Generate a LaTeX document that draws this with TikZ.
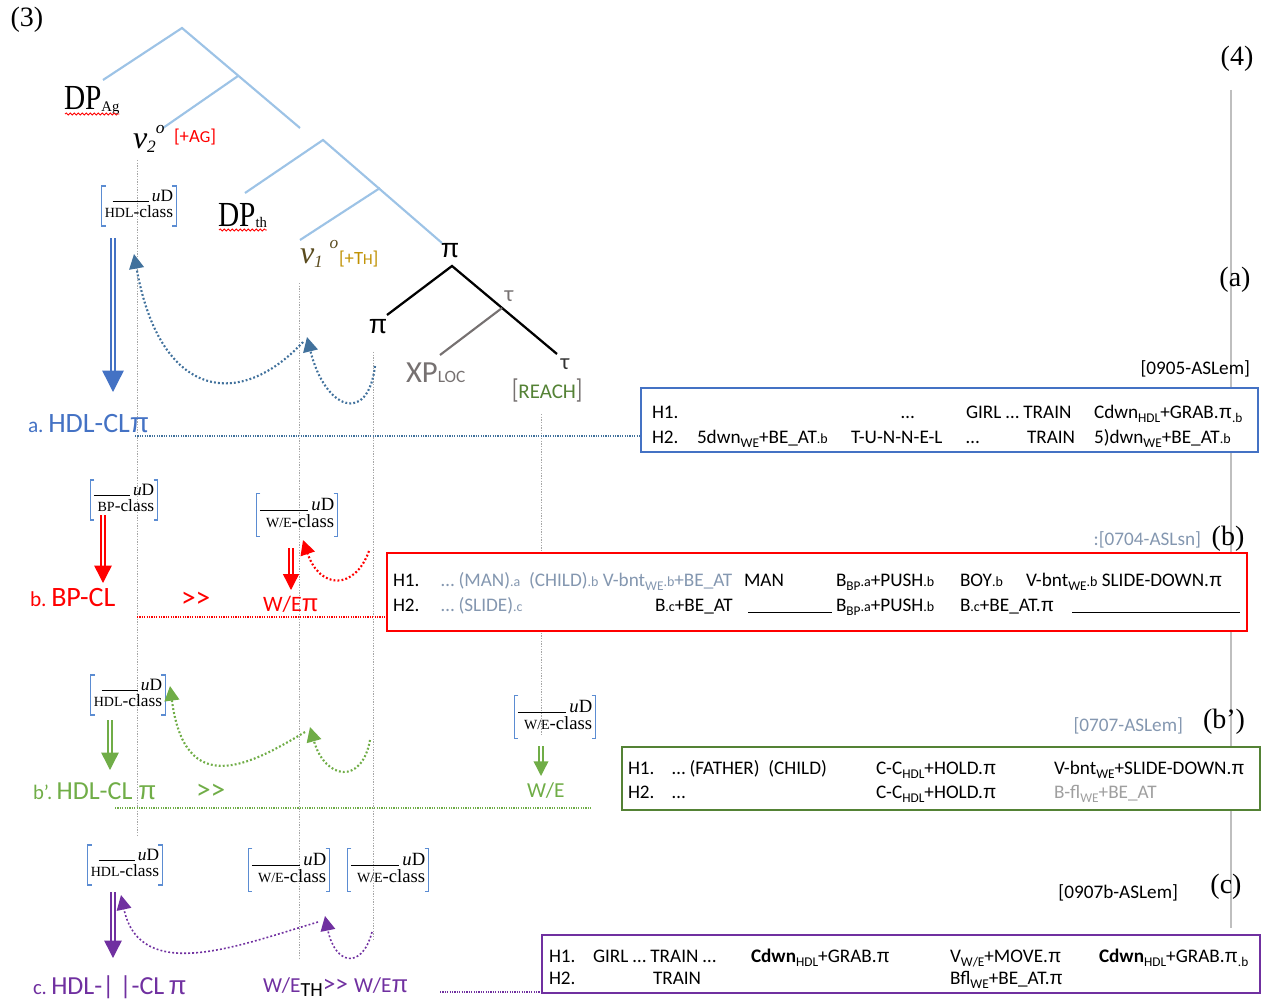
\documentclass[tikz,border=0pt]{standalone}
\usepackage{fontspec}
\setmainfont{Carlito}
\newfontfamily\tms{Liberation Serif}
\newfontfamily\pif{Liberation Sans}
\newcommand\p{{\pif π}}
\usetikzlibrary{arrows.meta,decorations.pathmorphing,calc}
\definecolor{treeblue}{RGB}{157,195,230}
\definecolor{cblue}{RGB}{68,114,196}
\definecolor{cdblue}{RGB}{65,113,156}
\definecolor{brblue}{RGB}{91,140,210}
\definecolor{cred}{RGB}{255,0,0}
\definecolor{cgreen}{RGB}{112,173,71}
\definecolor{cdgreen}{RGB}{84,130,53}
\definecolor{cpurple}{RGB}{112,48,160}
\definecolor{gblue}{RGB}{132,151,176}
\definecolor{cgold}{RGB}{191,144,0}
\definecolor{cgrey}{RGB}{118,113,113}
\definecolor{lgrey}{RGB}{191,191,191}
\newcommand\fs[1]{\fontsize{#1}{#1}\selectfont}
\newcommand\sm[1]{{\fs{10.5}#1}}
\newcommand\sbs[1]{\raisebox{-0.22em}{\fs{10}#1}}
\newcommand\featbox[5]{%
  \node[inner sep=2.5pt] (#1) at #2 {\fontsize{#4}{#4}\selectfont\tms
    \begin{tabular}{@{}r@{}}\rule[-0.5pt]{#5}{0.6pt}\,\textit{u}D\\[-1pt]{\fontsize{10.5}{10.5}\selectfont #3}-class\end{tabular}};
  \draw[brk] ([xshift=3pt]#1.north west) -- (#1.north west) -- (#1.south west) -- ([xshift=3pt]#1.south west);
  \draw[brk] ([xshift=-3pt]#1.north east) -- (#1.north east) -- (#1.south east) -- ([xshift=-3pt]#1.south east);
}
\begin{document}
\begin{tikzpicture}[x=0.75pt,y=-0.75pt,
  every node/.style={inner sep=0pt,outer sep=0pt},
  tree/.style={draw=treeblue,line width=1.6pt},
  btree/.style={draw=black,line width=1.7pt},
  brk/.style={draw=brblue,line width=1.1pt},
  vline/.style={draw=gray!70,line width=0.5pt,dash pattern=on 1pt off 1pt},
  hdot/.style={line width=0.9pt,dash pattern=on 0.9pt off 0.9pt},
  bt/.style={anchor=base west,font=\fs{14.4}},
  dblarr/.style={double distance=2pt,line width=1.05pt,-{Triangle[length=#1,width=#1]}},
  dotc/.style={line width=1.6pt,dash pattern=on 1.4pt off 1.6pt,-{Triangle[length=11pt,width=11pt]}},
  boxr/.style={line width=1.5pt},
  roman/.style={font=\tms\fs{21}},
  big/.style={anchor=base west,font=\fs{21}}
]
\useasboundingbox (0,0) rectangle (1266,1002);

% ---------- right vertical line ----------
\coordinate (rlT) at (1231,90);
\coordinate (rlB) at (1231,928);
\draw[draw=lgrey,line width=0.8pt] (rlT) -- (rlB);

% ---------- vertical dotted guides ----------
\coordinate (g1a) at (137,160); \coordinate (g1b) at (137,835);
\coordinate (g2a) at (299,283); \coordinate (g2b) at (299,958);
\coordinate (g3a) at (373,352); \coordinate (g3b) at (373,940);
\coordinate (g4a) at (541,414); \coordinate (g4b) at (541,735);
\draw[vline] (g1a) -- (g1b);
\draw[vline] (g2a) -- (g2b);
\draw[vline] (g3a) -- (g3b);
\draw[vline] (g4a) -- (g4b);

% ---------- horizontal dotted lines ----------
\coordinate (ha1) at (135,436); \coordinate (ha2) at (641,436);
\coordinate (hb1) at (137,617); \coordinate (hb2) at (387,617);
\coordinate (hp1) at (115,808); \coordinate (hp2) at (591,808);
\coordinate (hc1) at (440,992); \coordinate (hc2) at (542,992);
\draw[hdot,cdblue] (ha1) -- (ha2);
\draw[hdot,cred] (hb1) -- (hb2);
\draw[hdot,cgreen] (hp1) -- (hp2);
\draw[hdot,cpurple] (hc1) -- (hc2);

% ---------- labels (3), (4) ----------
\node[roman] (n3) at (27,20) {(3)};
\node[roman] (n4) at (1237,59) {(4)};

% ---------- blue tree ----------
\coordinate (r1) at (182,28); \coordinate (r1L) at (103,80);
\coordinate (r1m) at (238,76); \coordinate (r1R) at (300,128);
\coordinate (v2t) at (163,128);
\draw[tree] (r1L) -- (r1) -- (r1R);
\draw[tree] (r1m) -- (v2t);
\coordinate (r2) at (323,140); \coordinate (r2L) at (245,193);
\coordinate (r2m) at (380,188); \coordinate (r2R) at (442,243);
\coordinate (v1t) at (300,240);
\draw[tree] (r2L) -- (r2) -- (r2R);
\draw[tree] (r2m) -- (v1t);

\node[anchor=base west,font=\tms\fs{22}] (dpag) at (64,110) {\scalebox{1}[1.2]{DP}\raisebox{-1pt}{\fs{11}Ag}};
\draw[cred,line width=0.6pt,decorate,decoration={snake,amplitude=0.8pt,segment length=3pt}]
  ($(dpag.base west)+(1,4)$) -- ($(dpag.base east)+(0,4)$);
\node[anchor=base west,font=\tms\fs{22}] (dpth) at (218,226) {\scalebox{1}[1.2]{DP}\raisebox{-1pt}{\fs{11}th}};
\draw[cred,line width=0.6pt,decorate,decoration={snake,amplitude=0.8pt,segment length=3pt}]
  ($(dpth.base west)+(1,4)$) -- ($(dpth.base east)+(0,4)$);

\node[anchor=base west,font=\tms\itshape] (v2) at (133,148) {{\fs{24}v}{\fs{13}\raisebox{-3pt}{2}\raisebox{11pt}{o}}};
\node[anchor=base west,text=cred,font=\fs{14}] (ag) at (174,143) {[+A{\fs{12.5}G}]};
\node[anchor=base west,font=\tms\itshape,text={rgb,255:red,90;green,75;blue,30}] (v1) at (300,263) {{\fs{24}v}{\fs{13}\raisebox{-3pt}{1}\hspace{5pt}\raisebox{11pt}{o}}};
\node[anchor=base west,text=cgold,font=\fs{14}] (th) at (339,264) {[+T{\fs{11.5}H}]};

% ---------- black pi tree ----------
\node[font=\pif\fs{20}] (pitop) at (450,251) {π};
\node[font=\pif\fs{20}] (pibot) at (378,327) {π};
\node[font=\fs{17},text=cgrey] (tau1) at (509,296) {τ};
\node[font=\fs{17},text=black!80] (tau2) at (565,364) {τ};
\node[anchor=base west,text=cgrey,font=\fs{23}] (xp) at (406,382) {XP{\fs{13}LOC}};
\node[anchor=base west,font=\fs{15.7}] (reach) at (512,398) {\textcolor{cgrey}{\scalebox{1}[1.3]{[}}\textcolor{cdgreen}{REACH}\textcolor{cgrey}{\scalebox{1}[1.3]{]}}};
\coordinate (bt0) at (452,266);
\coordinate (btL) at (387,315);
\coordinate (btR) at (557,354);
\coordinate (gt0) at (502,308);
\coordinate (gtL) at (440,355);
\draw[btree] (btL) -- (bt0) -- (btR);
\draw[draw=cgrey,line width=1.6pt] (gt0) -- (gtL);

% ---------- feature boxes ----------
\featbox{fA}{(139,206)}{HDL}{13}{2.1em}
\featbox{fB1}{(124,500)}{BP}{13}{2.1em}
\featbox{fB2}{(297,515)}{W/E}{14}{2.6em}
\featbox{fP1}{(128,695)}{HDL}{13}{2.1em}
\featbox{fP2}{(555,717)}{W/E}{14}{2.6em}
\featbox{fC1}{(125,865)}{HDL}{13}{2.1em}
\featbox{fC2}{(289,870)}{W/E}{14}{2.6em}
\featbox{fC3}{(388,870)}{W/E}{14}{2.6em}

% ---------- left labels ----------
\node[big,text=cblue] (la) at (28,432) {{\fs{16}a.}\,HDL-CL\p};
\node[big,text=cred] (lb) at (30,606) {{\fs{16}b.}\,BP-CL};
\node[big,text=cred,font=\fs{22}] (lbg) at (181,607) {>{}>};
\node[anchor=base west,text=cred,font=\fs{16.5}] (lbw) at (263,611) {W/E{\fs{18}\p}};
\node[big,text=cgreen,font=\fs{19.5}] (lp) at (33,799) {{\fs{15.5}b'.}\,HDL-CL \p};
\node[big,text=cgreen,font=\fs{22}] (lpg) at (196,799) {>{}>};
\node[anchor=base west,text=cgreen,font=\fs{16}] (lpw) at (527,797) {W/E};
\node[big,text=cpurple,font=\fs{19.5}] (lc) at (33,994) {{\fs{15.5}c.}\,HDL-|\hspace{4pt}|-CL\,\p};
\node[anchor=base west,text=cpurple,font=\fs{16}] (lcw) at (263,992) {W/E\textcolor{black}{\raisebox{-3pt}{\fs{15}TH}}{\fs{19}>{}>}\;W/E{\fs{18}\p}};

% ---------- double arrows ----------
\coordinate (aA1) at (113,238); \coordinate (aA2) at (113,392);
\coordinate (aB1) at (103,515); \coordinate (aB2) at (103,583);
\coordinate (aW1) at (291,548); \coordinate (aW2) at (291,590);
\coordinate (aP1) at (110,720); \coordinate (aP2) at (110,770);
\coordinate (aQ1) at (541,746); \coordinate (aQ2) at (541,776);
\coordinate (aC1) at (113,892); \coordinate (aC2) at (113,958);
\draw[dblarr=16pt,draw=cblue] (aA1) -- (aA2);
\draw[dblarr=13pt,draw=cred] (aB1) -- (aB2);
\draw[dblarr=12pt,draw=cred] (aW1) -- (aW2);
\draw[dblarr=13pt,draw=cgreen] (aP1) -- (aP2);
\draw[dblarr=11pt,draw=cgreen] (aQ1) -- (aQ2);
\draw[dblarr=13pt,draw=cpurple] (aC1) -- (aC2);

% ---------- dotted movement curves ----------
\coordinate (ba0) at (375,366); \coordinate (ba1) at (307,337);
\coordinate (ba2) at (303,342); \coordinate (ba3) at (134,254);
\draw[dotc,draw=cdblue] (ba0) .. controls (368,425) and (325,410) .. (ba1);
\draw[dotc,draw=cdblue] (ba2) .. controls (240,410) and (160,400) .. (ba3);
\coordinate (rb0) at (369,551); \coordinate (rb1) at (303,540);
\draw[dotc,draw=cred] (rb0) .. controls (355,590) and (320,590) .. (rb1);
\coordinate (gb0) at (370,740); \coordinate (gb1) at (310,727);
\coordinate (gb2) at (305,732); \coordinate (gb3) at (170,686);
\draw[dotc,draw=cgreen] (gb0) .. controls (362,785) and (325,780) .. (gb1);
\draw[dotc,draw=cgreen] (gb2) .. controls (250,765) and (185,800) .. (gb3);
\coordinate (pc0) at (372,932); \coordinate (pc1) at (325,916);
\coordinate (pc2) at (318,922); \coordinate (pc3) at (121,895);
\draw[dotc,draw=cpurple,line width=1.2pt] (pc0) .. controls (362,970) and (335,965) .. (pc1);
\draw[dotc,draw=cpurple,line width=1.2pt] (pc2) .. controls (240,945) and (140,985) .. (pc3);

% ---------- box (a) ----------
\node[anchor=base east,font=\fs{14.4}] (ida) at (1250,374) {[0905-ASLem]};
\node[roman] (lbla) at (1235,280) {(a)};
\draw[boxr,draw=cblue,fill=white] (641,388) rectangle (1258,452);
\node[bt] (a11) at (652,418) {H1.};
\node[bt] (a12) at (901,418) {…};
\node[bt] (a13) at (966,418) {GIRL … TRAIN};
\node[bt] (a14) at (1094,418) {Cdwn\sbs{HDL}+GRAB.\p\sbs{.b}};
\node[bt] (a21) at (652,443) {H2.};
\node[bt] (a22) at (697,443) {5dwn\sbs{WE}+BE\_AT\sm{.b}};
\node[bt] (a23) at (851,443) {T-U-N-N-E-L};
\node[bt] (a24) at (966,443) {…};
\node[bt] (a25) at (1027,443) {TRAIN};
\node[bt] (a26) at (1094,443) {5)dwn\sbs{WE}+BE\_AT\sm{.b}};

% ---------- box (b) ----------
\node[anchor=base east,font=\fs{14.4},text=gblue] (idb) at (1201,545) {:[0704-ASLsn]};
\node[roman] (lblb) at (1228,539) {(b)};
\draw[boxr,draw=cred,fill=white] (387,553) rectangle (1247,631);
\node[bt] (b11) at (393,586) {H1.};
\node[bt,text=gblue] (b12) at (441,586) {… (MAN)\sm{.a}\ \ (CHILD)\sm{.b} V-bnt\sbs{WE}\sm{.b}+BE\_AT};
\node[bt] (b13) at (744,586) {MAN};
\node[bt] (b14) at (836,586) {B\sbs{BP}\sm{.a}+PUSH\sm{.b}};
\node[bt] (b15) at (960,586) {BOY\sm{.b}};
\node[bt] (b16) at (1026,586) {V-bnt\sbs{WE}\sm{.b} SLIDE-DOWN.\p};
\node[bt] (b21) at (393,611) {H2.};
\node[bt,text=gblue] (b22) at (441,611) {… (SLIDE)\sm{.c}};
\node[bt] (b23) at (655,611) {B\sm{.c}+BE\_AT};
\node[bt] (b24) at (748,611) {\rule[-1.5pt]{63pt}{0.8pt}};
\node[bt] (b25) at (836,611) {B\sbs{BP}\sm{.a}+PUSH\sm{.b}};
\node[bt] (b26) at (960,611) {B\sm{.c}+BE\_AT.\p};
\node[bt] (b27) at (1072,611) {\rule[-1.5pt]{126pt}{0.8pt}};

% ---------- box (b') ----------
\node[anchor=base east,font=\fs{14.4},text=gblue] (idp) at (1183,731) {[0707-ASLem]};
\node[roman] (lblp) at (1224,722) {(b’)};
\draw[boxr,draw=cdgreen,fill=white] (622,747) rectangle (1260,810);
\node[bt] (p11) at (628,774) {H1.};
\node[bt] (p12) at (672,774) {… (FATHER)\ \ (CHILD)};
\node[bt] (p13) at (876,774) {C-C\sbs{HDL}+HOLD.\p};
\node[bt] (p14) at (1054,774) {V-bnt\sbs{WE}+SLIDE-DOWN.\p};
\node[bt] (p21) at (628,798) {H2.};
\node[bt] (p22) at (672,798) {…};
\node[bt] (p23) at (876,798) {C-C\sbs{HDL}+HOLD.\p};
\node[bt,text=gray!75] (p24) at (1054,798) {B-fl\sbs{WE}+BE\_AT};

% ---------- box (c) ----------
\node[anchor=base east,font=\fs{14.4}] (idc) at (1178,898) {[0907b-ASLem]};
\node[roman] (lblc) at (1226,887) {(c)};
\draw[boxr,draw=cpurple,fill=white] (542,935) rectangle (1260,993);
\node[bt] (c11) at (549,962) {H1.};
\node[bt] (c12) at (593,962) {GIRL … TRAIN …};
\node[bt] (c13) at (751,962) {\textbf{Cdwn}\sbs{HDL}+GRAB.\p};
\node[bt] (c14) at (950,962) {V\sbs{W/E}+MOVE.\p};
\node[bt] (c15) at (1099,962) {\textbf{Cdwn}\sbs{HDL}+GRAB.\p\sbs{.b}};
\node[bt] (c21) at (549,984) {H2.};
\node[bt] (c22) at (653,984) {TRAIN};
\node[bt] (c23) at (950,984) {Bfl\sbs{WE}+BE\_AT.\p};
\end{tikzpicture}
\end{document}
